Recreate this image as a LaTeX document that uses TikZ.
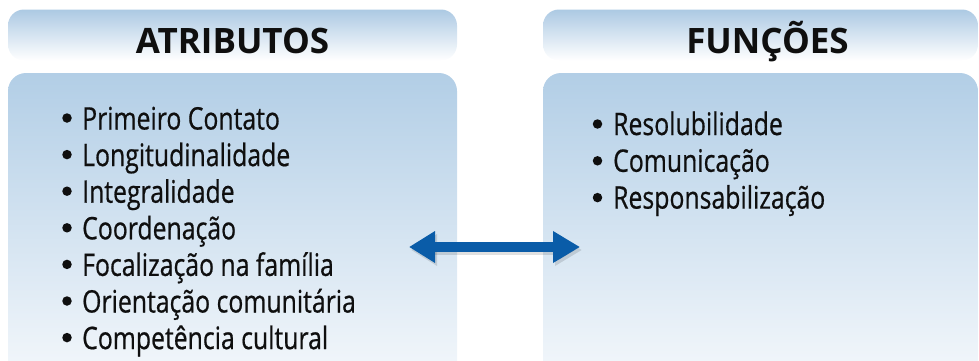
\documentclass[tikz,border=0pt]{standalone}
\usepackage{fontspec}
\setmainfont{Open Sans}
\newfontfamily\itemfont{Open Sans}[FakeStretch=0.80,FakeBold=0.6]
\usetikzlibrary{arrows.meta}
\definecolor{hdrblue}{RGB}{172,201,227}
\definecolor{bodyblue}{RGB}{178,206,230}
\definecolor{bodylow}{RGB}{246,249,252}
\definecolor{arrowblue}{RGB}{10,92,168}
\definecolor{txt}{RGB}{15,15,15}
\tikzset{
  hdrbox/.style={rectangle, rounded corners=16pt, inner sep=0pt, top color=hdrblue, bottom color=white, draw=none},
  bodybox/.style={rectangle, rounded corners=18pt, inner sep=0pt, top color=bodyblue, bottom color=bodylow, draw=none},
  hdrtext/.style={anchor=base, inner sep=0pt, text=txt, font=\fontsize{35}{40}\selectfont\bfseries},
  itm/.style={anchor=base west, inner sep=0pt, text=txt, font=\itemfont\fontsize{31}{36}\selectfont},
  dot/.style={circle, fill=txt, inner sep=0pt, minimum size=9.5pt},
  twoway/.style={draw=arrowblue, line width=10pt, {Triangle[length=26pt,width=30pt]}-{Triangle[length=27pt,width=30pt]}}
}
\begin{document}
\begin{tikzpicture}[x=1pt,y=1pt]
\useasboundingbox (0,0) rectangle (979,360);
% header boxes
\node[hdrbox, minimum width=449pt, minimum height=51pt] (ha) at (232.5,325) {};
\node[hdrbox, minimum width=435pt, minimum height=51pt] (hf) at (760.5,325) {};
% body boxes
\node[bodybox, minimum width=449pt, minimum height=317pt] (ba) at (232.5,128.5) {};
\node[bodybox, minimum width=435pt, minimum height=317pt] (bf) at (760.5,128.5) {};
% header texts
\node[hdrtext] (ta) at (232.5,307) {ATRIBUTOS};
\node[hdrtext] (tf) at (767.5,307) {FUNÇÕES};
% left items
\foreach \t [count=\i from 0] in {Primeiro Contato, Longitudinalidade, Integralidade, Coordenação, Focalização na família, Orientação comunitária, Competência cultural}{
  \node[itm] (l\i) at (82,230.5-36.6*\i) {\t};
  \node[dot] (dl\i) at (67,230.5+11.5-36.6*\i) {};
}
% right items
\foreach \t [count=\i from 0] in {Resolubilidade, Comunicação, Responsabilização}{
  \node[itm] (r\i) at (613,225-36.8*\i) {\t};
  \node[dot] (dr\i) at (597.5,225+11-36.8*\i) {};
}
% arrow
\coordinate (pl) at (409,113);
\coordinate (pr) at (580,113);
\draw[twoway, draw=black, opacity=0.12, transform canvas={shift={(2pt,-3pt)}}] (pl) -- (pr);
\draw[twoway, fill=arrowblue] (pl) -- (pr);
\end{tikzpicture}
\end{document}
